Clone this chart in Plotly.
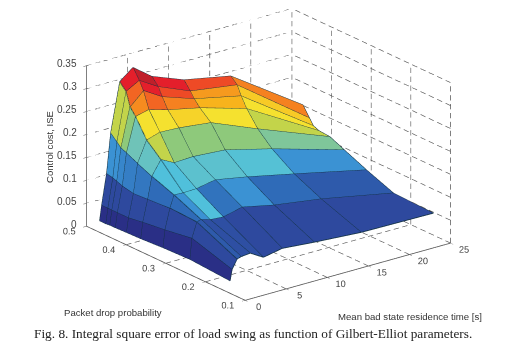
import plotly.graph_objects as go

time_s = [0.25, 0.5, 1.1, 1.6, 2.7, 4.3, 6.6, 10.5, 16.2, 25]
drop_p = [0.472, 0.456, 0.446, 0.432, 0.404, 0.368, 0.312, 0.244, 0.143]
cost = [
    [.022, .055, .121, .207, .313, .336, .305, .278, .258, .151],
    [.022, .055, .118, .194, .298, .314, .289, .260, .245, .129],
    [.023, .055, .115, .185, .269, .296, .271, .247, .225, .116],
    [.023, .055, .110, .180, .253, .260, .248, .233, .203, .111],
    [.024, .055, .105, .168, .213, .222, .220, .212, .170, .109],
    [.025, .060, .107, .154, .185, .170, .172, .167, .141, .095],
    [.028, .066, .110, .136, .135, .136, .144, .131, .109, .074],
    [.030, .075, .107, .110, .104, .102, .112, .097, .082, .051],
    [.024, .048, .067, .070, .072, .055, .063, .057, .050, .048],
]
# colour level of every mesh cell, row by row
cell_level = [
    [0, 1, 3, 7, 12, 13, 12, 11, 10],
    [0, 1, 3, 7, 10.5, 12, 11, 9.5, 8.5],
    [0, 1, 2.7, 6, 9.8, 10.5, 10, 9, 8],
    [0, 1, 2.5, 5, 8, 8, 8.3, 8, 7],
    [0, 1, 2.3, 4.7, 7, 6, 6, 6, 5.5],
    [0, 1, 2, 4, 4, 4.4, 4.4, 4.2, 3],
    [0, 1, 2, 3, 4, 2.2, 3, 2, 1.5],
    [0, 1, 1.5, 1.2, 1.2, 1, 1, 1, 1],
]
palette = ["#2a2f86", "#2e4a9f", "#2f6bb8", "#3b93d3", "#4fc0dc", "#6fc3b8", "#8fc97a",
           "#c2d44a", "#f5e12f", "#f8b21c", "#f58220", "#ee4a26", "#e61f2b", "#c01f2a"]

t_ticks = [0, 5, 10, 15, 20, 25]
p_ticks = [0.1, 0.2, 0.3, 0.4, 0.5]
z_ticks = [0, 0.05, 0.1, 0.15, 0.2, 0.25, 0.3, 0.35]
z_labels = ["0", "0.05", "0.1", "0.15", "0.2", "0.25", "0.3", "0.35"]

T0, T1, P0, P1, Z0, Z1 = t_ticks[0], t_ticks[-1], p_ticks[0], p_ticks[-1], z_ticks[0], z_ticks[-1]

fig = go.Figure()


def segs(items):
    xs, ys, zs = [], [], []
    for a, b in items:
        xs += [a[0], b[0], None]
        ys += [a[1], b[1], None]
        zs += [a[2], b[2], None]
    return xs, ys, zs


def dashed(a, b, count):
    """Split the gridline a-b into count dashes."""
    out = []
    for i in range(count):
        f0, f1 = i / count, (i + 0.6) / count
        out.append((tuple(a[m] + (b[m] - a[m]) * f0 for m in range(3)),
                    tuple(a[m] + (b[m] - a[m]) * f1 for m in range(3))))
    return out


grid = []
for t in t_ticks[1:]:
    grid += dashed((t, P1, Z0), (t, P1, Z1), 18)
    grid += dashed((t, P0, Z0), (t, P1, Z0), 19)
for p in p_ticks[:-1]:
    grid += dashed((T1, p, Z0), (T1, p, Z1), 18)
    grid += dashed((T0, p, Z0), (T1, p, Z0), 24)
for z in z_ticks[1:]:
    grid += dashed((T0, P1, z), (T1, P1, z), 24)
    grid += dashed((T1, P0, z), (T1, P1, z), 19)
x, y, z = segs(grid)
fig.add_trace(go.Scatter3d(x=x, y=y, z=z, mode="lines", hoverinfo="skip",
                           line=dict(color="#555555", width=1.3)))

axes_lines = [((T0, P1, Z0), (T0, P1, Z1)), ((T0, P0, Z0), (T0, P1, Z0)), ((T0, P0, Z0), (T1, P0, Z0))]
x, y, z = segs(axes_lines)
fig.add_trace(go.Scatter3d(x=x, y=y, z=z, mode="lines", hoverinfo="skip",
                           line=dict(color="#555555", width=1.6)))

# mesh faces
nr, nc = len(drop_p), len(time_s)
vx, vy, vz = [], [], []
for r in range(nr):
    for c in range(nc):
        vx.append(time_s[c]); vy.append(drop_p[r]); vz.append(cost[r][c])
I, J, K, inten = [], [], [], []
for r in range(nr - 1):
    for c in range(nc - 1):
        a = r * nc + c; b = a + 1; d_ = a + nc; e = d_ + 1
        I += [a, a]; J += [b, e]; K += [e, d_]
        inten += [cell_level[r][c]] * 2
n = len(palette) - 1
fig.add_trace(go.Mesh3d(
    x=vx, y=vy, z=vz, i=I, j=J, k=K, intensity=inten, intensitymode="cell",
    colorscale=[[i / n, col] for i, col in enumerate(palette)], cmin=0, cmax=n,
    showscale=False, flatshading=True, hoverinfo="skip",
    lighting=dict(ambient=1, diffuse=0, specular=0, roughness=1, fresnel=0)))

# mesh lines
lines = []
for r in range(nr):
    for c in range(nc - 1):
        lines.append(((time_s[c], drop_p[r], cost[r][c]), (time_s[c + 1], drop_p[r], cost[r][c + 1])))
for c in range(nc):
    for r in range(nr - 1):
        lines.append(((time_s[c], drop_p[r], cost[r][c]), (time_s[c], drop_p[r + 1], cost[r + 1][c])))
x, y, z = segs(lines)
fig.add_trace(go.Scatter3d(x=x, y=y, z=z, mode="lines", hoverinfo="skip",
                           line=dict(color="#12303f", width=1.6)))


def axis(vals, text, rng, labels=True):
    return dict(range=rng, tickvals=vals, ticktext=text, showgrid=False, zeroline=False,
                showbackground=False, showline=False, ticks="outside", ticklen=4, tickangle=0,
                tickcolor="#555555", title=dict(text=""), showspikes=False, showticklabels=labels,
                tickfont=dict(family="Liberation Sans", size=10.5, color="#444444"))


d = 1.2
k_scale = 1.483
cx, cy, cz = -0.0735, 0.0031, -0.1096
fig.update_layout(
    width=516, height=350, margin=dict(l=0, r=0, t=0, b=0), paper_bgcolor="white",
    showlegend=False,
    scene=dict(
        domain=dict(x=[0, 1], y=[0, 1]),
        xaxis=axis(t_ticks, [str(v) for v in t_ticks], [T0, T1]),
        yaxis=axis(p_ticks, [str(v) for v in p_ticks], [P0, P1]),
        zaxis=axis(z_ticks, z_labels, [Z0, Z1], labels=False),
        aspectmode="manual", aspectratio=dict(x=k_scale, y=k_scale, z=0.663 * k_scale),
        camera=dict(projection=dict(type="orthographic"),
                    eye=dict(x=-0.569 * d + cx, y=-0.737 * d + cy, z=0.36 * d + cz),
                    up=dict(x=0, y=0, z=1), center=dict(x=cx, y=cy, z=cz)),
        annotations=[dict(x=T0, y=P1, z=v, text=s, showarrow=False, xanchor="right", yanchor="middle",
                          xshift=-8, yshift=2,
                          font=dict(family="Liberation Sans", size=10, color="#444444"))
                     for v, s in zip(z_ticks, z_labels)],
    ),
    annotations=[
        dict(text="Control cost, ISE", x=50, y=147, textangle=-90),
        dict(text="Packet drop probability", x=113, y=312.5),
        dict(text="Mean bad state residence time [s]", x=410, y=316.5),
        dict(text="Fig. 8. Integral square error of load swing as function of Gilbert-Elliot parameters.",
             x=253, y=333, font=dict(family="Liberation Serif", size=13.3, color="#222222")),
    ],
)
for a in fig.layout.annotations:
    a.update(xref="paper", yref="paper", showarrow=False, xanchor="center", yanchor="middle")
    a.x = a.x / 516
    a.y = 1 - a.y / 350
    if a.font.family is None:
        a.font = dict(family="Liberation Sans", size=9.6, color="#333333")

fig.write_html("out.html", post_script="document.body.style.margin='0';",
               config=dict(displayModeBar=False))
